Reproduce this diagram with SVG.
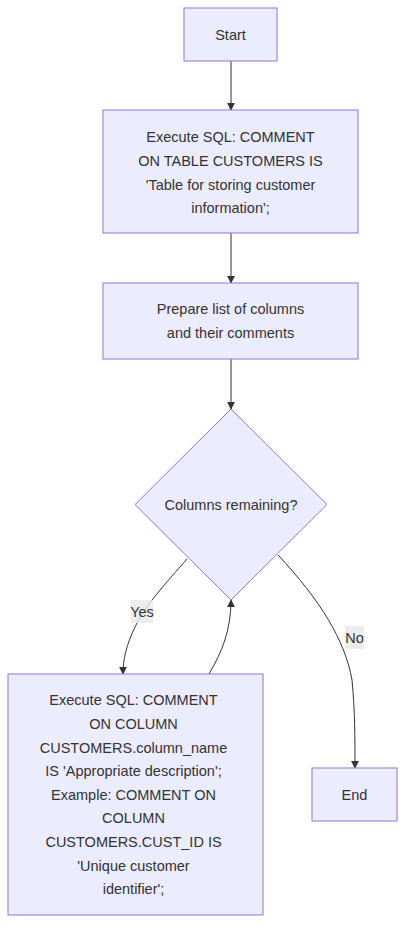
<svg xmlns="http://www.w3.org/2000/svg" width="413" height="941" viewBox="0 0 413 941">
<style>
.node rect,.node polygon{fill:#ECECFF;stroke:#9370DB;stroke-width:1}
text{font-family:"Liberation Sans",Arial,sans-serif;font-size:14.5px;fill:#333;text-anchor:middle}
.edge{fill:none;stroke:#333;stroke-width:1}
.lbl{fill:rgba(232,232,232,0.8);stroke:none}
</style>
<defs>
<marker id="arr" viewBox="0 0 10 10" refX="9" refY="5" markerWidth="8" markerHeight="8" markerUnits="userSpaceOnUse" orient="auto">
<path d="M0,0 L10,5 L0,10 z" fill="#333"/>
</marker>
</defs>
<rect width="413" height="941" fill="#fff"/>
<g id="edges">
<path class="edge" d="M231,61 L231,110" marker-end="url(#arr)"/>
<path class="edge" d="M231,233 L231,283" marker-end="url(#arr)"/>
<path class="edge" d="M231,359 L231,409" marker-end="url(#arr)"/>
<path class="edge" d="M187,559 C165,584 145,606 136,625 C126,645 123,660 123,674" marker-end="url(#arr)"/>
<path class="edge" d="M209,674 C222,652 231,630 231,600" marker-end="url(#arr)"/>
<path class="edge" d="M278,555 C320,600 345,640 352,680 C355,710 355,740 355,768" marker-end="url(#arr)"/>
<rect class="lbl" x="131" y="600" width="22" height="23"/>
<text x="142" y="617">Yes</text>
<rect class="lbl" x="345" y="626" width="19" height="23"/>
<text x="354.5" y="643">No</text>
</g>
<g id="start" class="node">
<rect x="184" y="8" width="93" height="53"/>
<text x="230.5" y="40">Start</text>
</g>
<g id="comment_table" class="node">
<rect x="103" y="110" width="255" height="123"/>
<text x="230.5" y="142">Execute SQL: COMMENT</text>
<text x="230.5" y="166">ON TABLE CUSTOMERS IS</text>
<text x="230.5" y="190">'Table for storing customer</text>
<text x="230.5" y="213">information';</text>
</g>
<g id="prepare" class="node">
<rect x="103" y="283" width="255" height="76"/>
<text x="230.5" y="314">Prepare list of columns</text>
<text x="230.5" y="338">and their comments</text>
</g>
<g id="decision" class="node">
<polygon points="231,409 327,504.5 231,600 135,504.5"/>
<text x="231" y="510">Columns remaining?</text>
</g>
<g id="comment_column" class="node">
<rect x="8" y="674" width="255" height="241"/>
<text x="133.5" y="705">Execute SQL: COMMENT</text>
<text x="133.5" y="729">ON COLUMN</text>
<text x="133.5" y="753">CUSTOMERS.column_name</text>
<text x="133.5" y="776">IS 'Appropriate description';</text>
<text x="133.5" y="800">Example: COMMENT ON</text>
<text x="133.5" y="823">COLUMN</text>
<text x="133.5" y="847">CUSTOMERS.CUST_ID IS</text>
<text x="133.5" y="871">'Unique customer</text>
<text x="133.5" y="894">identifier';</text>
</g>
<g id="end" class="node">
<rect x="312" y="768" width="85" height="53"/>
<text x="354.5" y="800">End</text>
</g>
</svg>
